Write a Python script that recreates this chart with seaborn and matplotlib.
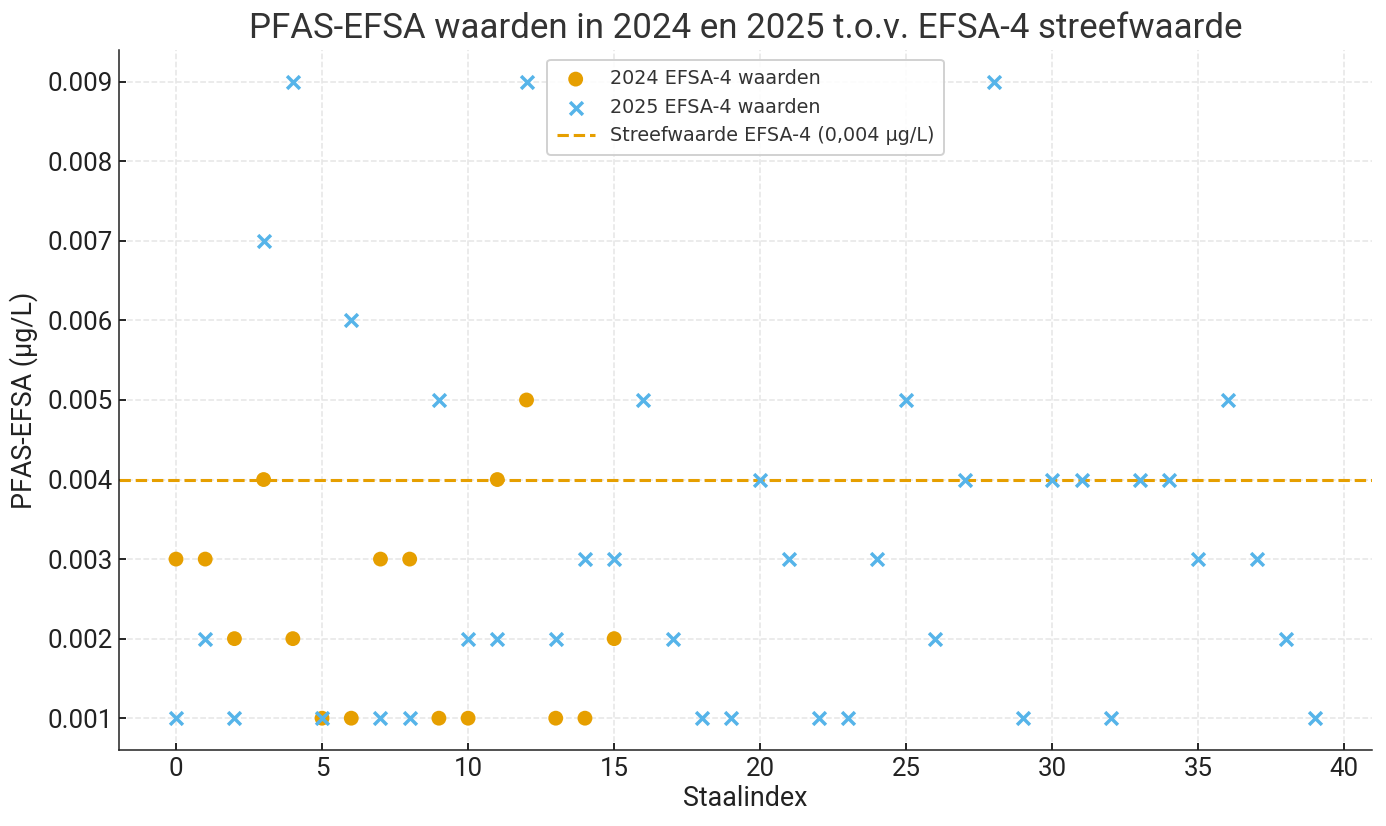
import numpy as np
import pandas as pd
import matplotlib.pyplot as plt
import seaborn as sns

# values
waarden_2024 = [0.003, 0.003, 0.002, 0.004, 0.002, 0.001, 0.001, 0.003,
                0.003, 0.001, 0.001, 0.004, 0.005, 0.001, 0.001, 0.002]
waarden_2025 = [0.001, 0.002, 0.001, 0.007, 0.009, 0.001, 0.006, 0.001,
                0.001, 0.005, 0.002, 0.002, 0.009, 0.002, 0.003, 0.003,
                0.005, 0.002, 0.001, 0.001, 0.004, 0.003, 0.001, 0.001,
                0.003, 0.005, 0.002, 0.004, 0.009, 0.001, 0.004, 0.004,
                0.001, 0.004, 0.004, 0.003, 0.005, 0.003, 0.002, 0.001]
streefwaarde = 0.004

df24 = pd.DataFrame({"idx": np.arange(len(waarden_2024)), "val": waarden_2024})
df25 = pd.DataFrame({"idx": np.arange(len(waarden_2025)), "val": waarden_2025})

sns.set_style("white")
plt.rcParams['font.family'] = ['Roboto', 'DejaVu Sans']

fig, ax = plt.subplots(figsize=(1386 / 138, 826 / 138), dpi=138)

sns.scatterplot(data=df24, x="idx", y="val", ax=ax, color="#E69F00", marker="o",
                s=60, edgecolor="none", label="2024 EFSA-4 waarden", zorder=3)
sns.scatterplot(data=df25, x="idx", y="val", ax=ax, color="#56B4E9", marker="x",
                s=45, linewidth=1.8, label="2025 EFSA-4 waarden", zorder=3)
ax.axhline(streefwaarde, color="#E69F00", linestyle="--", linewidth=1.6,
           label="Streefwaarde EFSA-4 (0,004 µg/L)")

ax.set_title("PFAS-EFSA waarden in 2024 en 2025 t.o.v. EFSA-4 streefwaarde",
             fontsize=18.2, color="#333333")
ax.set_xlabel("Staalindex", fontsize=14, color="#222222", labelpad=2)
ax.set_ylabel("PFAS-EFSA (µg/L)", fontsize=14, color="#222222", labelpad=5)
ax.tick_params(axis="both", labelsize=13.5, length=3.5, width=1, direction="in",
               left=True, bottom=True, colors="#222222")
ax.grid(True, linestyle="--", color="#e6e6e6", linewidth=0.8)
sns.despine(ax=ax)
ax.spines["left"].set_color("#222222")
ax.spines["bottom"].set_color("#222222")

leg = ax.legend(loc="upper center", prop={"family": "DejaVu Sans", "size": 10},
                framealpha=0.9, borderpad=0.5)
for t in leg.get_texts():
    t.set_color("#333333")

fig.subplots_adjust(left=0.0859, right=0.99, top=0.9395, bottom=0.092)
plt.savefig("out.png", dpi=138)
